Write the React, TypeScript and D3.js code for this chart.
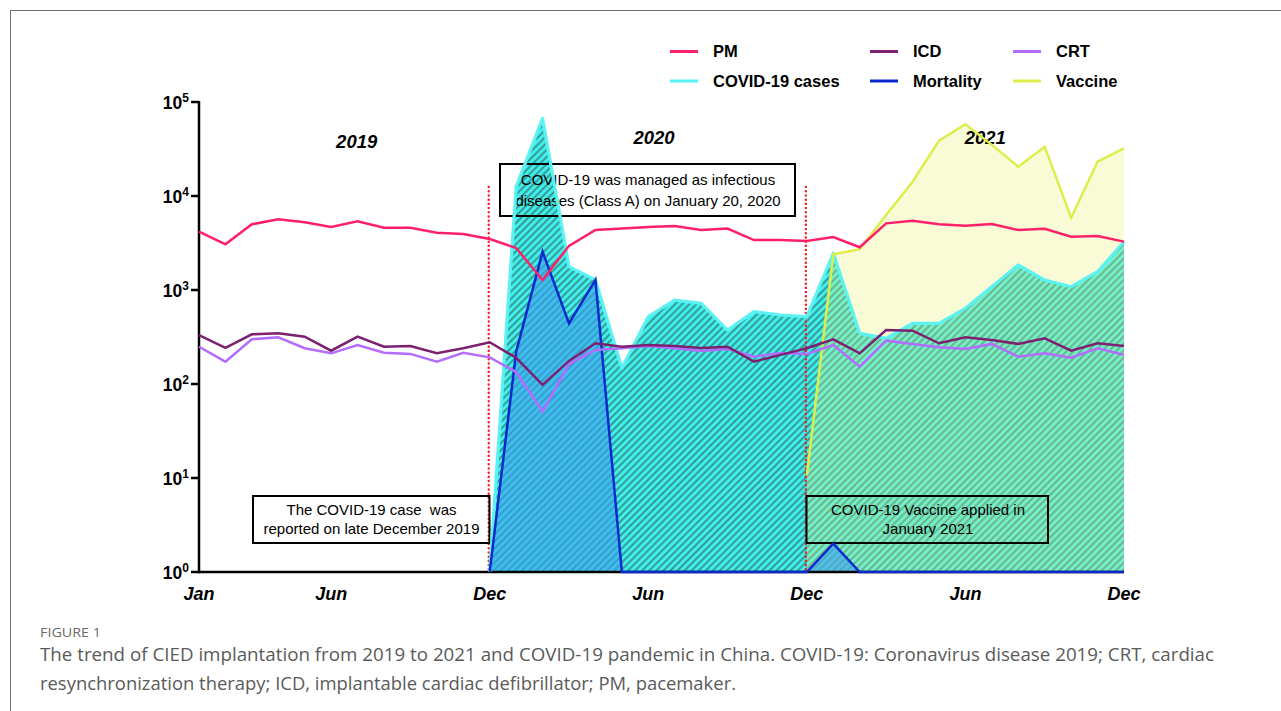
import React from 'react';
import * as d3 from 'd3';

// monthly series, Jan 2019 .. Dec 2021 (36 months)
const pm = [4170, 3060, 5000, 5650, 5250, 4680, 5380, 4600, 4600, 4070, 3940, 3490,
  2800, 1280, 2950, 4350, 4510, 4680, 4800, 4350, 4500, 3400, 3400, 3320,
  3660, 2850, 5120, 5460, 5000, 4830, 5040, 4350, 4490, 3690, 3750, 3270];
const icd = [332, 243, 338, 346, 319, 226, 319, 249, 254, 212, 240, 278,
  190, 98, 176, 271, 249, 260, 254, 241, 249, 173, 204, 240,
  299, 212, 375, 369, 271, 314, 294, 267, 306, 226, 271, 254];
const crt = [249, 173, 299, 314, 240, 212, 260, 215, 209, 173, 215, 192,
  134, 51, 163, 230, 240, 254, 240, 225, 235, 195, 214, 208,
  260, 153, 289, 267, 246, 236, 267, 195, 212, 190, 240, 204];

// COVID-19 series begin in Dec 2019 (month 11)
const casesStart = 11;
const cases = [1, 12500, 67000, 1770, 1280, 147, 520, 783, 722, 375, 588, 542, 520,
  2460, 346, 306, 442, 442, 639, 1084, 1845, 1277, 1084, 1566, 3265];
const mortality = [1, 220, 2555, 442, 1280, 1, 1, 1, 1, 1, 1, 1, 1,
  2, 1, 1, 1, 1, 1, 1, 1, 1, 1, 1, 1];
// vaccine begins Dec 2020 (month 23)
const vaccineStart = 23;
const vaccine = [10.7, 2400, 2711, 6280, 14200, 38740, 57900, 35000, 20500, 33500, 5880, 23200, 32200];

const tickMonths = [0, 5, 11, 17, 23, 29, 35];
const tickLabels = ['Jan', 'Jun', 'Dec', 'Jun', 'Dec', 'Jun', 'Dec'];
const yearLabels = ['2019', '2020', '2021'];
const yTicks = [1, 10, 100, 1000, 10000, 100000];

const legendNames = ['PM', 'ICD', 'CRT', 'COVID-19 cases', 'Mortality', 'Vaccine'];
const legendColors = ['#ff1f6b', '#7d2070', '#b46cff', '#55f0f0', '#0a2ad0', '#dcee4c'];

const note1 = ['COVID-19 was managed as infectious', 'diseases (Class A) on January 20, 2020'];
const note2 = ['The COVID-19 case  was', 'reported on late December 2019'];
const note3 = ['COVID-19 Vaccine applied in', 'January 2021'];

const captionTitle = 'FIGURE 1';
const caption = [
  'The trend of CIED implantation from 2019 to 2021 and COVID-19 pandemic in China. COVID-19: Coronavirus disease 2019; CRT, cardiac',
  'resynchronization therapy; ICD, implantable cardiac defibrillator; PM, pacemaker.',
];

const font = '"Liberation Sans", Arial, sans-serif';

export default function App() {
  const x = d3.scaleLinear().domain([0, 35]).range([199, 1124]);
  const y = d3.scaleLog().domain([1, 1e5]).range([572, 102]);

  const line = (start: number) =>
    d3.line<number>().x((d, i) => x(i + start)).y(d => y(d));
  const area = (start: number) =>
    d3.area<number>().x((d, i) => x(i + start)).y0(y(1)).y1(d => y(d));

  const box = (x0: number, y0: number, x1: number, y1: number, lines: string[], cx: number, b0: number, gap: number) => (
    <g>
      <rect x={x0} y={y0} width={x1 - x0} height={y1 - y0} fill="none" stroke="#000" strokeWidth={2} />
      {lines.map((t, i) => (
        <text key={i} x={cx} y={b0 + i * gap} textAnchor="middle" fontSize={15} fontFamily={font}
          style={{ whiteSpace: 'pre' }} fill="#000">{t}</text>
      ))}
    </g>
  );

  const legendX = [670, 870, 1013];
  const legendY = [51.5, 81];

  return (
    <svg width={1281} height={711} style={{ position: 'absolute', left: 0, top: 0, display: 'block' }}>
      <defs>
        <pattern id="hatch" patternUnits="userSpaceOnUse" width={5} height={5} patternTransform="rotate(45)">
          <rect width={5} height={5} fill="#3ff4f4" />
          <line x1={2.5} y1={0} x2={2.5} y2={5} stroke="#368a7c" strokeWidth={1.8} />
        </pattern>
      </defs>
      <rect width={1281} height={711} fill="#fff" />
      <path d="M10.5,711V10.5H1281" fill="none" stroke="#6f6f6f" strokeWidth={1} />

      {/* areas */}
      <path d={area(casesStart)(cases) || ''} fill="url(#hatch)" />
      <path d={area(vaccineStart)(vaccine) || ''} fill="#eaf27a" fillOpacity={0.3} />
      <path d={area(casesStart)(mortality) || ''} fill="#3c9ff2" fillOpacity={0.6} />

      {/* axes */}
      <line x1={x(0)} x2={x(35)} y1={y(1)} y2={y(1)} stroke="#000" strokeWidth={2.5} />
      <line x1={x(0)} x2={x(0)} y1={y(1e5) - 1} y2={y(1) + 1.2} stroke="#000" strokeWidth={2.5} />
      {yTicks.map((t, i) => (
        <g key={t}>
          <line x1={x(0) - 8} x2={x(0)} y1={y(t)} y2={y(t)} stroke="#000" strokeWidth={2.5} />
          <text x={189} y={y(t) + 6.5} textAnchor="end" fontFamily={font} fontWeight="bold" fontSize={17.5} fill="#000">
            10<tspan fontSize={12} dy={-7}>{i}</tspan>
          </text>
        </g>
      ))}
      {tickMonths.map((m, i) => (
        <text key={i} x={x(m)} y={600} textAnchor="middle" fontFamily={font} fontWeight="bold"
          fontStyle="italic" fontSize={18} fill="#000">{tickLabels[i]}</text>
      ))}
      {yearLabels.map((t, i) => (
        <text key={t} x={[356.7, 654, 985.3][i]} y={[147.5, 143.5, 143.5][i]} textAnchor="middle"
          fontFamily={font} fontWeight="bold" fontStyle="italic" fontSize={18.5} fill="#000">{t}</text>
      ))}

      {/* event markers */}
      {[11, 23].map(m => (
        <line key={m} x1={x(m) - 1} x2={x(m) - 1} y1={187} y2={572} stroke="#ec2228" strokeWidth={2.4}
          strokeDasharray="0.1 4.1" strokeLinecap="round" />
      ))}
      {box(500, 164, 795, 216, note1, 648, 185, 21)}
      {box(253, 496, 489.5, 543, note2, 371.5, 515, 18.5)}
      {box(806.5, 496, 1048, 543, note3, 928, 515, 18.5)}

      {/* series lines */}
      <path d={line(casesStart)(cases) || ''} fill="none" stroke="#5cf2f2" strokeWidth={3.2} strokeLinejoin="round" />
      <path d={line(vaccineStart)(vaccine) || ''} fill="none" stroke="#dcee4c" strokeWidth={2.5} />
      <path d={line(casesStart)(mortality) || ''} fill="none" stroke="#0a2ad0" strokeWidth={2.5} />
      <path d={line(0)(crt) || ''} fill="none" stroke="#b46cff" strokeWidth={2.5} />
      <path d={line(0)(icd) || ''} fill="none" stroke="#7d2070" strokeWidth={2.5} />
      <path d={line(0)(pm) || ''} fill="none" stroke="#ff1f6b" strokeWidth={2.5} />

      {/* legend */}
      {legendNames.map((n, i) => {
        const lx = legendX[i % 3];
        const ly = legendY[Math.floor(i / 3)];
        return (
          <g key={n}>
            <line x1={lx} x2={lx + 28} y1={ly} y2={ly} stroke={legendColors[i]} strokeWidth={3} />
            <text x={lx + 43} y={ly + 5.8} fontFamily={font} fontWeight="bold" fontSize={16.5} fill="#000">{n}</text>
          </g>
        );
      })}

      {/* caption */}
      <text x={40} y={636.5} fontFamily='"Open Sans", sans-serif' fontSize={12} fill="#6a6a6a"
        textLength={61} lengthAdjust="spacingAndGlyphs">{captionTitle}</text>
      {caption.map((t, i) => (
        <text key={i} x={40} y={661 + i * 29} fontFamily='"Open Sans", sans-serif' fontSize={17.5} fill="#5a5a5a"
          textLength={[1174, 696][i]} lengthAdjust="spacingAndGlyphs">{t}</text>
      ))}
    </svg>
  );
}
